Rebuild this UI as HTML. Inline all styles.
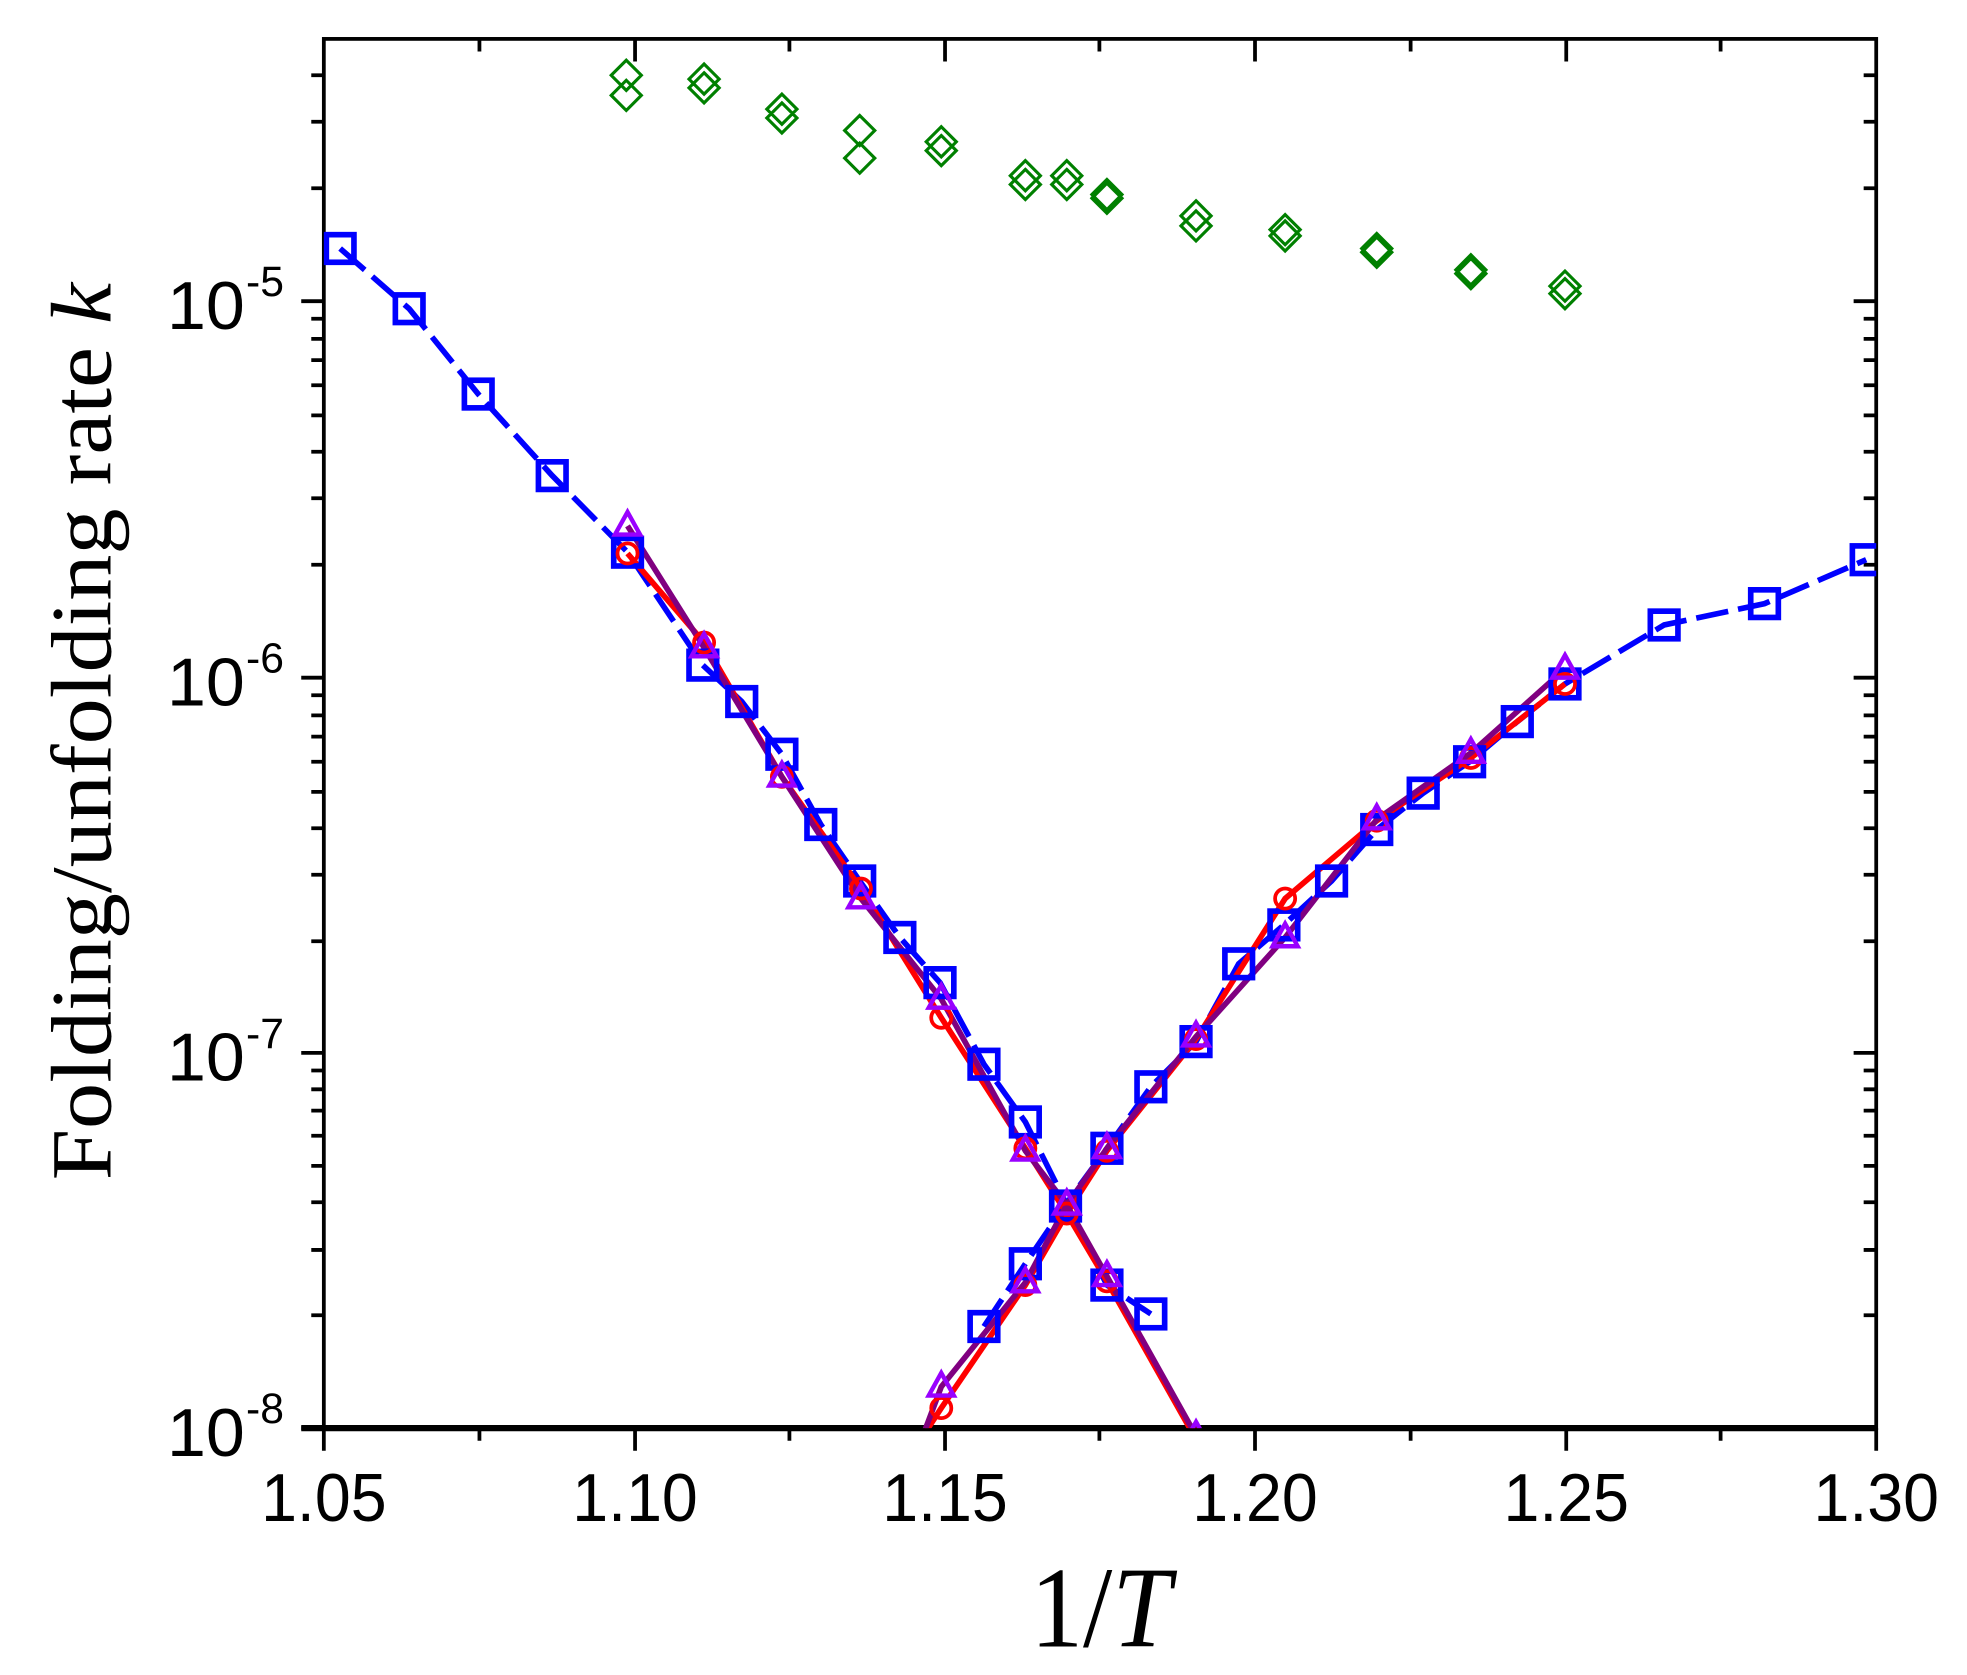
<!DOCTYPE html>
<html><head><style>html,body{margin:0;padding:0;background:#fff}svg{display:block}</style></head>
<body>
<svg width="1967" height="1675" viewBox="0 0 1567.3 1334.7" xmlns="http://www.w3.org/2000/svg">
<rect width="1567.3" height="1334.7" fill="#fff"/>
<defs><clipPath id="c"><rect x="258" y="31" width="1237" height="1107"/></clipPath></defs>
<g stroke="#000" stroke-width="3" fill="none">
<rect x="258" y="31" width="1237" height="1107"/>
<path d="M240 1138h1255" stroke-width="5"/>
<path d="M258 1138v18M382 1138v10M506 1138v18M629 1138v10M753 1138v18M876 1138v10M1000 1138v18M1124 1138v10M1248 1138v18M1371 1138v10M1495 1138v18"/>
<path d="M382 31v10M506 31v18M629 31v10M753 31v18M876 31v10M1000 31v18M1124 31v10M1248 31v18M1371 31v10"/>
<path d="M240 240h18M240 540h18M240 839h18M240 1138h18M1477 240h18M1477 540h18M1477 839h18"/>
<path d="M248 150h10M248 97h10M248 60h10M248 450h10M248 397h10M248 360h10M248 331h10M248 307h10M248 287h10M248 270h10M248 254h10M248 750h10M248 697h10M248 660h10M248 631h10M248 607h10M248 587h10M248 570h10M248 554h10M248 1048h10M248 996h10M248 958h10M248 929h10M248 905h10M248 885h10M248 868h10M248 853h10M1485 150h10M1485 97h10M1485 60h10M1485 450h10M1485 397h10M1485 360h10M1485 331h10M1485 307h10M1485 287h10M1485 270h10M1485 254h10M1485 750h10M1485 697h10M1485 660h10M1485 631h10M1485 607h10M1485 587h10M1485 570h10M1485 554h10M1485 1048h10M1485 996h10M1485 958h10M1485 929h10M1485 905h10M1485 885h10M1485 868h10M1485 853h10"/>
</g>
<g font-family="Liberation Sans, Arial, sans-serif" font-size="54" fill="#000" text-anchor="middle">
<text x="258" y="1212" textLength="100" lengthAdjust="spacingAndGlyphs">1.05</text><text x="506" y="1212" textLength="100" lengthAdjust="spacingAndGlyphs">1.10</text><text x="753" y="1212" textLength="100" lengthAdjust="spacingAndGlyphs">1.15</text><text x="1000" y="1212" textLength="100" lengthAdjust="spacingAndGlyphs">1.20</text><text x="1248" y="1212" textLength="100" lengthAdjust="spacingAndGlyphs">1.25</text><text x="1495" y="1212" textLength="100" lengthAdjust="spacingAndGlyphs">1.30</text>
</g>
<g font-family="Liberation Sans, Arial, sans-serif" font-size="54" fill="#000">
<text x="133" y="262" textLength="62" lengthAdjust="spacingAndGlyphs">10</text><text x="133" y="562" textLength="62" lengthAdjust="spacingAndGlyphs">10</text><text x="133" y="861" textLength="62" lengthAdjust="spacingAndGlyphs">10</text><text x="133" y="1160" textLength="62" lengthAdjust="spacingAndGlyphs">10</text>
</g>
<g font-family="Liberation Sans, Arial, sans-serif" font-size="34" fill="#000">
<text x="196" y="236">-5</text><text x="196" y="536">-6</text><text x="196" y="835">-7</text><text x="196" y="1134">-8</text>
</g>
<text transform="translate(88,583) rotate(-90)" text-anchor="middle" font-family="Liberation Serif, serif" font-size="68" textLength="715" lengthAdjust="spacingAndGlyphs">Folding/unfolding rate <tspan font-style="italic">k</tspan></text>
<text x="877" y="1312" text-anchor="middle" font-family="Liberation Serif, serif" font-size="92" textLength="112" lengthAdjust="spacingAndGlyphs">1/<tspan font-style="italic">T</tspan></text>
<g clip-path="url(#c)" fill="none">
<polyline stroke="#0000ff" stroke-width="4.5" stroke-dasharray="26,8" points="271,198 326,246 381,314 440,379 500,440 560,530 591,559 623,601 654,657 685,702 717,747 749,783 784,848 817,894 849,958 882,1024 917,1047"/>
<polyline stroke="#0000ff" stroke-width="4.5" stroke-dasharray="26,8" points="784,1057 817,1007 849,960 882,915 917,866 953,830 987,768 1023,737 1061,702 1097,661 1134,632 1171,607 1209,575 1247,545 1326,498 1406,481 1487,446"/>
<polyline stroke="#ff0000" stroke-width="4.5" points="500,441 561,512 623,619 686,708 750,811 817,915 850,967 882,1021 953,1147"/>
<polyline stroke="#ff0000" stroke-width="4.5" points="735,1145 750,1122 817,1024 850,967 882,917 953,828 1024,716 1097,654 1172,604 1247,545"/>
<polyline stroke="#800080" stroke-width="4.5" points="500,419 561,516 623,619 686,716 750,796 817,917 850,960 882,1017 953,1144"/>
<polyline stroke="#800080" stroke-width="4.5" points="735,1145 750,1105 817,1022 850,960 882,915 953,826 1024,747 1097,653 1172,600 1247,533"/>
<g stroke="#0000ff" stroke-width="4.5">
<rect x="260" y="187" width="22" height="22"/><rect x="315" y="235" width="22" height="22"/><rect x="370" y="303" width="22" height="22"/><rect x="429" y="368" width="22" height="22"/><rect x="489" y="429" width="22" height="22"/><rect x="549" y="519" width="22" height="22"/><rect x="580" y="548" width="22" height="22"/><rect x="612" y="590" width="22" height="22"/><rect x="643" y="646" width="22" height="22"/><rect x="674" y="691" width="22" height="22"/><rect x="706" y="736" width="22" height="22"/><rect x="738" y="772" width="22" height="22"/><rect x="773" y="837" width="22" height="22"/><rect x="806" y="883" width="22" height="22"/><rect x="838" y="950" width="22" height="22"/><rect x="871" y="1013" width="22" height="22"/><rect x="906" y="1036" width="22" height="22"/>
<rect x="773" y="1046" width="22" height="22"/><rect x="806" y="996" width="22" height="22"/><rect x="871" y="904" width="22" height="22"/><rect x="906" y="855" width="22" height="22"/><rect x="942" y="819" width="22" height="22"/><rect x="976" y="757" width="22" height="22"/><rect x="1012" y="726" width="22" height="22"/><rect x="1050" y="691" width="22" height="22"/><rect x="1086" y="650" width="22" height="22"/><rect x="1123" y="621" width="22" height="22"/><rect x="1160" y="596" width="22" height="22"/><rect x="1198" y="564" width="22" height="22"/><rect x="1236" y="534" width="22" height="22"/><rect x="1315" y="487" width="22" height="22"/><rect x="1395" y="470" width="22" height="22"/><rect x="1476" y="435" width="22" height="22"/>
</g>
<g stroke="#ff0000" stroke-width="3">
<circle cx="500" cy="441" r="8"/><circle cx="561" cy="512" r="8"/><circle cx="623" cy="619" r="8"/><circle cx="686" cy="708" r="8"/><circle cx="750" cy="811" r="8"/><circle cx="817" cy="915" r="8"/><circle cx="850" cy="967" r="8"/><circle cx="882" cy="1021" r="8"/><circle cx="953" cy="1147" r="8"/>
<circle cx="750" cy="1122" r="8"/><circle cx="817" cy="1024" r="8"/><circle cx="882" cy="917" r="8"/><circle cx="953" cy="828" r="8"/><circle cx="1024" cy="716" r="8"/><circle cx="1097" cy="654" r="8"/><circle cx="1172" cy="604" r="8"/><circle cx="1247" cy="545" r="8"/>
</g>
<g stroke="#9900ff" stroke-width="3.5">
<path d="M500 408l10 18h-20z M561 505l10 18h-20z M623 608l10 18h-20z M686 705l10 18h-20z M750 785l10 18h-20z M817 906l10 18h-20z M850 949l10 18h-20z M882 1006l10 18h-20z M953 1133l10 18h-20z M750 1094l10 18h-20z M817 1011l10 18h-20z M882 904l10 18h-20z M953 815l10 18h-20z M1024 736l10 18h-20z M1097 642l10 18h-20z M1172 589l10 18h-20z M1247 522l10 18h-20z"/>
</g>
<g stroke="#008000" stroke-width="2.5">
<path d="M499 48l12 12-12 12-12-12z M499 64l12 12-12 12-12-12z M561 51l12 12-12 12-12-12z M561 58l12 12-12 12-12-12z M623 75l12 12-12 12-12-12z M623 82l12 12-12 12-12-12z M685 92l12 12-12 12-12-12z M685 114l12 12-12 12-12-12z M750 101l12 12-12 12-12-12z M750 108l12 12-12 12-12-12z M817 128l12 12-12 12-12-12z M817 135l12 12-12 12-12-12z M850 128l12 12-12 12-12-12z M850 135l12 12-12 12-12-12z M882 143l12 12-12 12-12-12z M882 146l12 12-12 12-12-12z M953 160l12 12-12 12-12-12z M953 168l12 12-12 12-12-12z M1024 171l12 12-12 12-12-12z M1024 176l12 12-12 12-12-12z M1097 186l12 12-12 12-12-12z M1097 189l12 12-12 12-12-12z M1172 203l12 12-12 12-12-12z M1172 206l12 12-12 12-12-12z M1247 216l12 12-12 12-12-12z M1247 222l12 12-12 12-12-12z"/>
</g>
</g>
</svg>
</body></html>
